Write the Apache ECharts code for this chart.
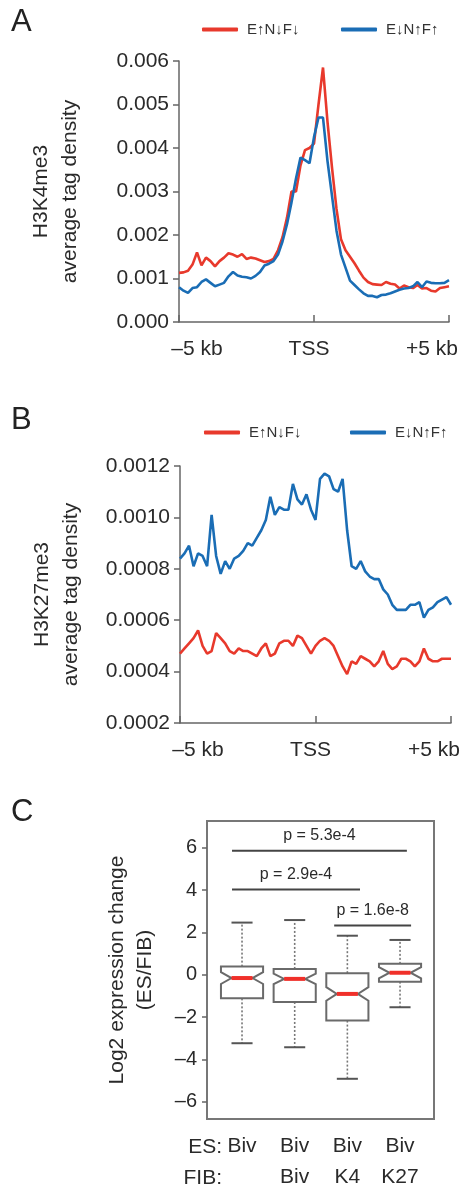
<!DOCTYPE html>
<html>
<head>
<meta charset="utf-8">
<script src="https://cdn.jsdelivr.net/npm/echarts/dist/echarts.min.js"></script>
<style>
html,body{margin:0;padding:0;background:#fff;}
#chart{width:467px;height:1188px;}
</style>
</head>
<body>
<div id="chart"></div>
<script>
// ---------------- DATA ----------------
const legendNames = ['E↑N↓F↓', 'E↓N↑F↑'];
const profileTickIndex = [0, 30, 60];
const profileTickText = ['–5 kb', 'TSS', '+5 kb'];

// Panel A: H3K4me3 average tag density (values x 1e-3)
const h3k4RedMilli = [1.13,1.14,1.18,1.32,1.60,1.30,1.48,1.40,1.28,1.40,1.48,1.58,1.55,1.50,1.56,1.45,1.48,1.46,1.42,1.38,1.40,1.45,1.65,1.95,2.40,3.00,3.00,3.60,3.95,4.00,4.10,5.00,5.85,4.60,3.55,2.60,1.90,1.65,1.50,1.35,1.18,1.02,0.92,0.87,0.86,0.85,0.92,0.88,0.86,0.77,0.84,0.80,0.78,0.85,0.77,0.78,0.72,0.70,0.78,0.80,0.82];
const h3k4BlueMilli = [0.80,0.72,0.67,0.78,0.80,0.92,0.98,0.90,0.82,0.86,0.90,1.05,1.15,1.07,1.04,1.03,1.00,1.06,1.15,1.30,1.34,1.40,1.55,1.85,2.25,2.75,3.30,3.78,3.72,3.65,4.25,4.70,4.70,3.70,2.90,2.10,1.55,1.25,0.95,0.85,0.75,0.66,0.60,0.60,0.57,0.62,0.63,0.66,0.70,0.74,0.77,0.78,0.82,0.92,0.80,0.93,0.90,0.89,0.89,0.90,0.96];

// Panel B: H3K27me3 average tag density (values x 1e-4)
const h3k27RedE4 = [4.7,4.9,5.1,5.3,5.6,5.0,4.7,4.8,5.5,5.3,5.1,4.8,4.7,4.9,4.8,4.8,4.7,4.6,4.9,5.1,4.6,4.7,5.1,5.2,5.2,5.0,5.4,5.3,5.0,4.7,5.0,5.2,5.3,5.2,5.0,4.6,4.2,3.9,4.4,4.3,4.6,4.5,4.4,4.2,4.4,4.8,4.3,4.1,4.2,4.5,4.5,4.4,4.2,4.4,4.9,4.5,4.4,4.4,4.5,4.5,4.5];
const h3k27BlueE4 = [8.4,8.6,8.9,8.1,8.6,8.5,8.1,10.1,8.5,7.8,8.3,8.0,8.4,8.5,8.7,9.0,8.9,9.2,9.5,9.9,10.8,10.1,10.4,10.3,10.3,11.3,10.7,10.5,10.9,10.3,9.9,11.5,11.7,11.6,11.1,11.0,11.5,9.5,8.1,8.0,8.3,7.9,7.7,7.6,7.6,7.2,7.0,6.6,6.4,6.4,6.4,6.6,6.6,6.7,6.1,6.4,6.5,6.7,6.8,6.9,6.6];

// Panel C: Log2 expression change (ES/FIB) box plots
const boxPos = [1, 2, 3, 4];
const esLabels = ['Biv', 'Biv', 'Biv', 'Biv'];
const fibLabels = ['', 'Biv', 'K4', 'K27'];
const whiskerLow = [-3.23, -3.42, -4.91, -1.53];
const boxQ1 = [-1.11, -1.28, -2.16, -0.32];
const boxMedian = [-0.15, -0.19, -0.90, 0.10];
const boxQ3 = [0.39, 0.28, 0.08, 0.52];
const whiskerHigh = [2.47, 2.59, 1.85, 1.65];
const notchHalf = [0.28, 0.25, 0.32, 0.26];
const cTicks = [-6, -4, -2, 0, 2, 4, 6];

// significance brackets
const sigFrom = [0.81, 0.81, 2.75];
const sigTo = [4.13, 3.24, 4.21];
const sigY = [5.87, 4.03, 2.33];
const sigLabels = ['p = 5.3e-4', 'p = 2.9e-4', 'p = 1.6e-8'];

// ---------------- STYLE ----------------
const FONT = "'Liberation Sans', Arial, Helvetica, sans-serif";
const TXT = '#2a2a2a';
const AX = '#666666';
const RED = '#e8392c';
const BLUE = '#1a6db5';

const bins = h3k4RedMilli.map((_, i) => i);

function profileXAxis(gridIndex) {
  const show = (i) => profileTickIndex.indexOf(i) >= 0;
  const base = { fontSize: 21, color: TXT, fontFamily: FONT };
  return {
    type: 'category', gridIndex, data: bins, boundaryGap: false,
    axisLine: { lineStyle: { color: AX, width: 1.5 } },
    axisTick: { inside: true, length: 7, interval: show, lineStyle: { color: AX, width: 1.5 } },
    axisLabel: {
      interval: show, margin: 17, ...base,
      formatter: (v, i) => {
        const k = profileTickIndex.indexOf(i);
        return '{' + ['a', 'b', 'c'][k] + '|' + profileTickText[k] + '}';
      },
      rich: {
        a: { ...base, padding: [0, 0, 0, 36] },
        b: { ...base, padding: [0, 10, 0, 0] },
        c: { ...base, padding: [0, 34, 0, 0] }
      }
    },
    splitLine: { show: false }
  };
}

function profileYAxis(gridIndex, min, max, interval, digits, name) {
  return {
    type: 'value', gridIndex, min, max, interval,
    axisLine: { show: true, lineStyle: { color: AX, width: 1.5 } },
    axisTick: { show: true, length: 6, lineStyle: { color: AX, width: 1.5 } },
    splitLine: { show: false },
    axisLabel: { formatter: (v) => v.toFixed(digits), fontSize: 21, color: TXT, fontFamily: FONT, margin: 10 },
    name, nameLocation: 'middle', nameRotate: 90, nameGap: 94,
    nameTextStyle: { fontSize: 21, lineHeight: 29, color: TXT, fontFamily: FONT }
  };
}

function lineSeries(name, data, color, xi) {
  return {
    type: 'line', name, xAxisIndex: xi, yAxisIndex: xi, data,
    showSymbol: false, symbol: 'none', smooth: false,
    lineStyle: { color, width: 2.6 }, itemStyle: { color }, z: 3
  };
}

function legendAt(name, left, top) {
  return {
    data: [name], left, top, padding: 0, icon: 'roundRect', itemWidth: 36, itemHeight: 4,
    textStyle: { fontSize: 15, color: '#333', fontFamily: FONT, padding: [0, 0, 0, 4] },
    selectedMode: false
  };
}

function renderBox(params, api) {
  const x = api.value(0), lo = api.value(1), q1 = api.value(2), md = api.value(3),
        q3 = api.value(4), hi = api.value(5), nh = api.value(6);
  const hw = api.size([0.4, 0])[0];
  const cx = api.coord([x, md])[0];
  const y = (v) => api.coord([x, v])[1];
  const yLo = y(lo), yQ1 = y(q1), yMd = y(md), yQ3 = y(q3), yHi = y(hi);
  const yNh = y(md + nh), yNl = y(md - nh);
  const inset = hw * 0.5;
  const capW = hw * 0.5;
  const pts = [[cx - hw, yQ3], [cx + hw, yQ3], [cx + hw, yNh], [cx + hw - inset, yMd], [cx + hw, yNl],
               [cx + hw, yQ1], [cx - hw, yQ1], [cx - hw, yNl], [cx - hw + inset, yMd], [cx - hw, yNh]];
  const dash = { stroke: '#777', lineWidth: 1.6, lineDash: [2, 2] };
  const cap = { stroke: '#555', lineWidth: 2 };
  return {
    type: 'group',
    children: [
      { type: 'line', shape: { x1: cx, y1: yQ3, x2: cx, y2: yHi }, style: dash },
      { type: 'line', shape: { x1: cx, y1: yQ1, x2: cx, y2: yLo }, style: dash },
      { type: 'line', shape: { x1: cx - capW, y1: yHi, x2: cx + capW, y2: yHi }, style: cap },
      { type: 'line', shape: { x1: cx - capW, y1: yLo, x2: cx + capW, y2: yLo }, style: cap },
      { type: 'polygon', shape: { points: pts }, style: { fill: '#fff', stroke: '#6a6a6a', lineWidth: 2 } },
      { type: 'line', shape: { x1: cx - hw + inset, y1: yMd, x2: cx + hw - inset, y2: yMd }, style: { stroke: '#f0302a', lineWidth: 4 } }
    ]
  };
}

function renderSig(params, api) {
  const p1 = api.coord([api.value(0), api.value(2)]);
  const p2 = api.coord([api.value(1), api.value(2)]);
  return {
    type: 'group',
    children: [
      { type: 'line', shape: { x1: p1[0], y1: p1[1], x2: p2[0], y2: p2[1] }, style: { stroke: '#444', lineWidth: 2 } },
      { type: 'text', x: (p1[0] + p2[0]) / 2, y: p1[1] - 15,
        style: { text: sigLabels[params.dataIndex], fill: TXT, fontSize: 16, fontFamily: FONT, align: 'center', verticalAlign: 'middle' } }
    ]
  };
}

const chart = echarts.init(document.getElementById('chart'), null, { renderer: 'canvas' });

const option = {
  backgroundColor: '#fff',
  animation: false,
  textStyle: { fontFamily: FONT },
  legend: [
    legendAt(legendNames[0], 202, 22),
    legendAt(legendNames[1], 341, 22),
    legendAt(legendNames[0], 204, 425),
    legendAt(legendNames[1], 350, 425)
  ],
  grid: [
    { left: 179, right: 18, top: 61, bottom: 1188 - 322, outerBoundsMode: 'none', containLabel: false },
    { left: 180, right: 16, top: 466, bottom: 1188 - 723, outerBoundsMode: 'none', containLabel: false },
    { left: 207, right: 33, top: 821, bottom: 1188 - 1119, outerBoundsMode: 'none', containLabel: false,
      show: true, borderColor: '#777', borderWidth: 2, backgroundColor: 'transparent' }
  ],
  xAxis: [
    profileXAxis(0),
    profileXAxis(1),
    {
      type: 'value', gridIndex: 2, min: 0.335, max: 4.645,
      axisLine: { show: false }, splitLine: { show: false },
      axisTick: { show: true, customValues: boxPos, length: 6, lineStyle: { color: AX, width: 1.5 } },
      axisLabel: {
        customValues: boxPos, margin: 12, fontSize: 21, lineHeight: 31, color: TXT, fontFamily: FONT,
        formatter: (v) => { const i = boxPos.indexOf(v); return esLabels[i] + '\n' + (fibLabels[i] || ' '); }
      }
    }
  ],
  yAxis: [
    profileYAxis(0, 0, 0.006, 0.001, 3, 'H3K4me3\naverage tag density'),
    profileYAxis(1, 0.0002, 0.0012, 0.0002, 4, 'H3K27me3\naverage tag density'),
    {
      type: 'value', gridIndex: 2, min: -6.81, max: 7.27,
      axisLine: { show: false }, splitLine: { show: false },
      axisTick: { show: true, customValues: cTicks, length: 5, lineStyle: { color: AX, width: 1.5 } },
      axisLabel: {
        customValues: cTicks, margin: 10, fontSize: 20, color: TXT, fontFamily: FONT,
        formatter: (v) => (v < 0 ? '–' + Math.abs(v) : String(v))
      },
      name: 'Log2 expression change\n(ES/FIB)', nameLocation: 'middle', nameRotate: 90, nameGap: 48,
      nameTextStyle: { fontSize: 21, lineHeight: 28, color: TXT, fontFamily: FONT }
    }
  ],
  series: [
    lineSeries(legendNames[0], h3k4RedMilli.map(v => v / 1000), RED, 0),
    lineSeries(legendNames[1], h3k4BlueMilli.map(v => v / 1000), BLUE, 0),
    lineSeries(legendNames[0], h3k27RedE4.map(v => v / 10000), RED, 1),
    lineSeries(legendNames[1], h3k27BlueE4.map(v => v / 10000), BLUE, 1),
    {
      type: 'custom', xAxisIndex: 2, yAxisIndex: 2, clip: false,
      data: boxPos.map((p, i) => [p, whiskerLow[i], boxQ1[i], boxMedian[i], boxQ3[i], whiskerHigh[i], notchHalf[i]]),
      encode: { x: 0, y: [1, 2, 3, 4, 5] },
      renderItem: renderBox
    },
    {
      type: 'custom', xAxisIndex: 2, yAxisIndex: 2, clip: false,
      data: sigFrom.map((f, i) => [f, sigTo[i], sigY[i]]),
      encode: { x: [0, 1], y: 2 },
      renderItem: renderSig
    }
  ],
  graphic: [
    { type: 'text', left: 11, top: 7, style: { text: 'A', fontSize: 31, fill: '#222', fontFamily: FONT } },
    { type: 'text', left: 11, top: 405, style: { text: 'B', fontSize: 31, fill: '#222', fontFamily: FONT } },
    { type: 'text', left: 11, top: 797, style: { text: 'C', fontSize: 31, fill: '#222', fontFamily: FONT } },
    { type: 'text', x: 222, y: 1147, style: { text: 'ES:', fontSize: 21, fill: TXT, fontFamily: FONT, align: 'right', verticalAlign: 'middle' } },
    { type: 'text', x: 222, y: 1178, style: { text: 'FIB:', fontSize: 21, fill: TXT, fontFamily: FONT, align: 'right', verticalAlign: 'middle' } }
  ]
};

chart.setOption(option);
</script>
</body>
</html>
